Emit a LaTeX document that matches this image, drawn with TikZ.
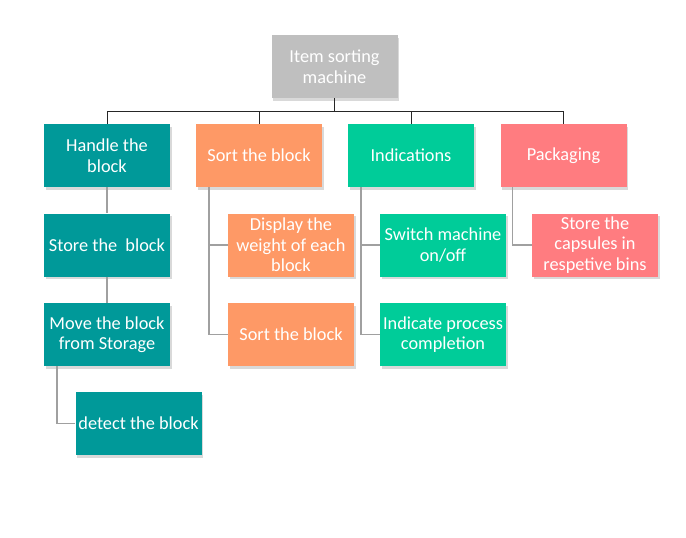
\documentclass[tikz,border=0pt]{standalone}
\usepackage{fontspec}
\setmainfont{Carlito}
\usetikzlibrary{calc,shadows}

\definecolor{rootgray}{RGB}{191,191,191}
\definecolor{tealbox}{RGB}{0,153,153}
\definecolor{orangebox}{RGB}{254,153,102}
\definecolor{greenbox}{RGB}{0,204,153}
\definecolor{pinkbox}{RGB}{255,124,128}
\definecolor{linegray}{RGB}{160,160,160}

\begin{document}
\begin{tikzpicture}[x=1pt, y=-1pt,
  box/.style = {rectangle, minimum width = 126pt, minimum height = 63pt, inner sep = 1pt, align = center, text = white, font = \fontsize{18.3}{20.5}\selectfont, drop shadow = {shadow xshift = 1.5pt, shadow yshift = -2.5pt, opacity = .3}},
  bus/.style = {draw = black!85, line width = .8pt},
  side/.style = {draw = linegray, line width = 1.6pt}]
      \useasboundingbox (0, 0) rectangle (686, 538);

      \node [box, fill = rootgray] (root) at (334.5, 66.5) {Item sorting\\machine};

      \node [box, fill = tealbox] (handle) at (107, 155.5) {Handle the\\block};
      \node [box, fill = orangebox] (sort) at (259, 155.5) {Sort the block};
      \node [box, fill = greenbox] (ind) at (411, 155.5) {Indications};
      \node [box, fill = pinkbox] (pack) at (563.5, 155.5) {Packaging};

      \node [box, fill = tealbox] (store) at (107, 245) {Store the\ \ block};
      \node [box, fill = tealbox] (move) at (107, 334.5) {Move the block\\from Storage};
      \node [box, fill = tealbox] (detect) at (138.5, 423.5) {detect the block};

      \node [box, fill = orangebox] (weigh) at (291, 245) {Display the\\weight of each\\block};
      \node [box, fill = orangebox] (sortb) at (291, 334.5) {Sort the block};

      \node [box, fill = greenbox] (switch) at (443, 245) {Switch machine\\on/off};
      \node [box, fill = greenbox] (done) at (443, 334.5) {Indicate process\\completion};

      \node [box, fill = pinkbox] (caps) at (595, 245) {Store the\\capsules in\\respetive bins};

      \coordinate (hub) at ($ (root.south) + (0, 13) $);
      \foreach \n in {handle, sort, ind, pack} {
        \draw [bus] (root.south) -- (hub) -| (\n.north);
      }

      \draw [side] (handle.south) -- (store.north);
      \draw [side] (store.south) -- (move.north);
      \draw [side] ($ (move.south west) + (13, 0) $) |- (detect.west);
      \draw [side] ($ (sort.south west) + (13, 0) $) |- (weigh.west);
      \draw [side] ($ (sort.south west) + (13, 0) $) |- (sortb.west);
      \draw [side] ($ (ind.south west) + (13, 0) $) |- (switch.west);
      \draw [side] ($ (ind.south west) + (13, 0) $) |- (done.west);
      \draw [side] ($ (pack.south west) + (12, 0) $) |- (caps.west);
    \end{tikzpicture}
\end{document}
